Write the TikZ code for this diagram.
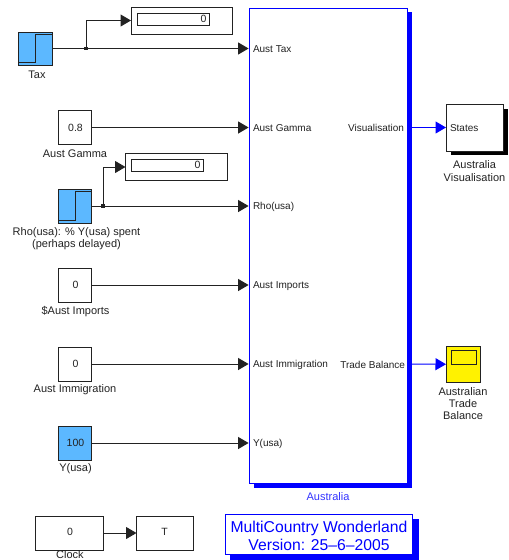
\documentclass[tikz,border=0pt]{standalone}
\usepackage{fontspec}
\setmainfont{Liberation Sans}
\usetikzlibrary{arrows.meta}
\definecolor{skyb}{HTML}{5CB8FF}
\definecolor{ink}{HTML}{222222}
\definecolor{pureblue}{HTML}{0000FF}
\tikzset{
  x=1pt,y=-1pt,
  every node/.style={font=\fontsize{10}{12.2}\selectfont,text=ink,inner sep=0pt,outer sep=0pt},
  blk/.style={draw=ink,line width=1pt,fill=white,anchor=north west},
  fillblue/.style={blk,fill=skyb},
  lbl/.style={align=center,anchor=center,font=\fontsize{11}{12.2}\selectfont,yshift=-1pt},
  val/.style={font=\fontsize{10.5}{12}\selectfont},
  wire/.style={draw=ink,line width=1pt,-{Triangle[length=10.5pt,width=12pt]}},
  bwire/.style={draw=pureblue,line width=1pt,-{Triangle[length=10.5pt,width=12pt,fill=pureblue]}},
  port/.style={anchor=west,yshift=-0.7pt},
  rport/.style={anchor=east,yshift=-0.7pt},
  dot/.style={rectangle,fill=ink,minimum size=3.5pt},
}
\begin{document}
\begin{tikzpicture}
\useasboundingbox (0,0) rectangle (509,560);
% Australia subsystem
\fill[pureblue] (254,12) rectangle (412,488);
\node[blk,draw=pureblue,minimum width=158pt,minimum height=475pt] (aus) at (249,8) {};
\node[lbl,text=pureblue!80!white] (auslbl) at (328,495.5) {Australia};
\coordinate (p1) at (248.6,48.5);
\coordinate (p2) at (248.6,127.5);
\coordinate (p3) at (248.6,206);
\coordinate (p4) at (248.6,285);
\coordinate (p5) at (248.6,364);
\coordinate (p6) at (248.6,443);
\node[port] (t1) at (253,48) {Aust Tax};
\node[port] (t2) at (253,127.5) {Aust Gamma};
\node[port] (t3) at (253,206) {Rho(usa)};
\node[port] (t4) at (253,285) {Aust Imports};
\node[port] (t5) at (253,364) {Aust Immigration};
\node[port] (t6) at (253,443) {Y(usa)};
\node[rport] (o1) at (404,127.5) {Visualisation};
\node[rport] (o2) at (405,364) {Trade Balance};
\coordinate (q1) at (412,127.5);
\coordinate (q2) at (412,364);
% Tax step
\node[fillblue,minimum width=34pt,minimum height=33pt] (tax) at (18.5,32) {};
\draw[ink,line width=1pt] (19,62) -- (35.5,62) -- (35.5,34) -- (52,34);
\node[lbl] (taxl) at (37,73.5) {Tax};
% Display 1
\node[blk,minimum width=101pt,minimum height=27pt] (d1) at (131,7) {};
\node[blk,minimum width=72pt,minimum height=12pt] (d1i) at (137,13) {};
\node[val,anchor=east] (d1v) at (206.5,18.5) {0};
% Gamma
\node[blk,minimum width=33.5pt,minimum height=34pt] (gam) at (58,110.5) {};
\node[val] (gamv) at (75.5,127.5) {0.8};
\node[lbl] (gaml) at (75,152.5) {Aust Gamma};
% Display 2
\node[blk,minimum width=101.5pt,minimum height=27pt] (d2) at (125.5,153.5) {};
\node[blk,minimum width=72pt,minimum height=12pt] (d2i) at (131,159) {};
\node[val,anchor=east] (d2v) at (200.5,164.5) {0};
% Rho
\node[fillblue,minimum width=33.5pt,minimum height=33.5pt] (rho) at (58,189.5) {};
\draw[ink,line width=1pt] (58.5,220) -- (75,220) -- (75,191.5) -- (91.5,191.5);
\node[lbl] (rhol) at (76.5,238) {Rho(usa): \% Y(usa) spent\\(perhaps delayed)};
% Imports
\node[blk,minimum width=33.5pt,minimum height=34pt] (imp) at (58,268) {};
\node[val] (impv) at (75.5,285) {0};
\node[lbl] (impl) at (75.5,311) {\$Aust Imports};
% Immigration
\node[blk,minimum width=33.5pt,minimum height=34pt] (imm) at (58,347) {};
\node[val] (immv) at (75.5,363.5) {0};
\node[lbl] (imml) at (75,389) {Aust Immigration};
% Y(usa)
\node[fillblue,minimum width=33.5pt,minimum height=34pt] (yus) at (58,426) {};
\node[val] (yusv) at (75.5,442.5) {100};
\node[lbl] (yusl) at (75.5,468) {Y(usa)};
% Clock and T
\node[blk,minimum width=67.5pt,minimum height=34pt] (clk) at (35.5,516) {};
\node[val] (clkv) at (70,532) {0};
\node[lbl] (clkl) at (70,553.5) {Clock};
\node[blk,minimum width=56.5pt,minimum height=34pt] (tt) at (136.5,516) {};
\node[val] (ttv) at (164.5,532) {T};
% Visualisation block
\fill[black] (450.5,108.5) rectangle (508,155);
\node[blk,minimum width=57pt,minimum height=47pt] (vis) at (446,104) {};
\node[anchor=west,yshift=-0.7pt] (visv) at (450,127.5) {States};
\node[lbl] (visl) at (474.5,170) {Australia\\Visualisation};
% Scope
\node[blk,fill=yellow,minimum width=34pt,minimum height=36.5pt] (sco) at (446,346) {};
\node[blk,fill=yellow,minimum width=25pt,minimum height=14pt] (scoi) at (451,350) {};
\node[lbl] (scol) at (463,402.5) {Australian\\Trade\\Balance};
% Title box
\fill[pureblue] (230,519) rectangle (419,560);
\node[blk,draw=pureblue,minimum width=187pt,minimum height=40pt] (ttl) at (225.7,514) {};
\node[lbl,text=pureblue,font=\fontsize{15.7}{18}\selectfont] (ttlt) at (319,535) {MultiCountry Wonderland\\Version: 25--6--2005};
% Wires
\coordinate (j1) at (86,48.5);
\coordinate (j2) at (103,206);
\path[wire] (tax.east |- p1) -- (p1);
\path[wire] (j1) |- (d1.west);
\node[dot] (jd1) at (j1) {};
\path[wire] (gam.east) -- (p2);
\path[wire] (rho.east |- p3) -- (p3);
\path[wire] (j2) |- (d2.west);
\node[dot] (jd2) at (j2) {};
\path[wire] (imp.east) -- (p4);
\path[wire] (imm.east) -- (p5);
\path[wire] (yus.east) -- (p6);
\path[wire] (clk.east) -- (tt.west);
\path[bwire] (q1) -- (vis.west);
\path[bwire] (q2) -- (sco.west);
\end{tikzpicture}
\end{document}
